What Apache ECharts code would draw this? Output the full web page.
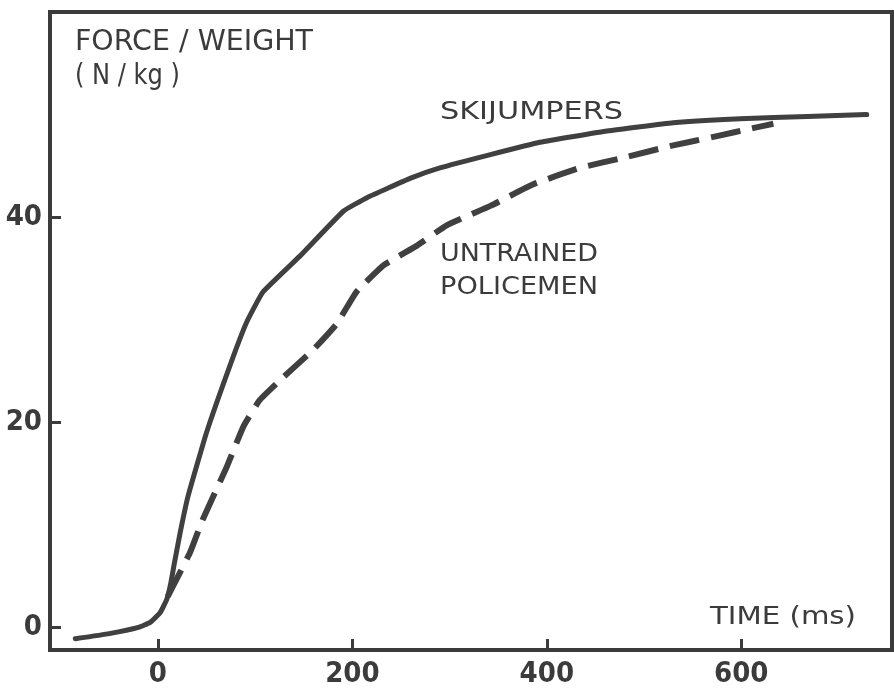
<!DOCTYPE html>
<html>
<head>
<meta charset="utf-8">
<script src="https://cdn.jsdelivr.net/npm/echarts@6/dist/echarts.min.js"></script>
<style>
html,body{margin:0;padding:0;background:#fff;}
#main{width:894px;height:689px;}
</style>
</head>
<body>
<div id="main"></div>
<script>
// ---- data ----
var xTicks = [0, 200, 400, 600];
var yTicks = [0, 20, 40];
var skijumpersT = [-85, -50, -20, -8, 2, 9, 13, 17, 23, 31, 50, 74, 91, 108, 146, 191, 215, 260, 290, 342, 393, 462, 530, 599, 668, 729];
var skijumpersV = [-1.1, -0.6, 0, 0.5, 1.4, 2.7, 4.2, 6.3, 9.3, 12.8, 19, 25.5, 29.7, 32.7, 36.2, 40.6, 41.9, 43.8, 44.8, 46.1, 47.3, 48.4, 49.2, 49.6, 49.8, 50.0];
var policemenT = [10, 17.5, 33, 46, 71, 88, 105, 129, 160, 184, 204, 232, 266, 297, 342, 386, 434, 479, 530, 575, 613, 633];
var policemenV = [3.0, 4.4, 7.3, 10.5, 15.7, 19.6, 22.2, 24.4, 27.1, 29.6, 32.7, 35.3, 37.2, 39.2, 41.1, 43.2, 44.8, 45.8, 47.0, 47.9, 48.7, 49.1];
var yTitle1 = 'FORCE / WEIGHT';
var yTitle2 = '( N / kg )';
var xTitle = 'TIME (ms)';
var label1 = 'SKIJUMPERS';
var label2a = 'UNTRAINED';
var label2b = 'POLICEMEN';

function zip(a, b) { return a.map(function (v, i) { return [v, b[i]]; }); }

var INK = '#3b3b3b';
var measureCtx = document.createElement('canvas').getContext('2d');
function txt(text, x, y, size, targetW) {
  var font = size + 'px "DejaVu Sans"';
  measureCtx.font = font;
  var w = measureCtx.measureText(text).width;
  return {
    type: 'text', x: x, y: y, scaleX: targetW / w, scaleY: 1,
    style: { text: text, font: font, fill: INK, align: 'left', verticalAlign: 'middle' }
  };
}

var chart = echarts.init(document.getElementById('main'), null, { renderer: 'canvas' });
chart.setOption({
  backgroundColor: '#fff',
  animation: false,
  grid: { left: 50, right: 2, top: 12, bottom: 39, show: true, borderWidth: 4, borderColor: INK, backgroundColor: 'transparent' },
  xAxis: {
    type: 'value', min: -111, max: 755,
    axisLine: { show: true, onZero: false, lineStyle: { color: INK, width: 4 } },
    splitLine: { show: false },
    axisTick: { show: true, inside: true, length: 11, customValues: xTicks, lineStyle: { color: INK, width: 3 } },
    axisLabel: { customValues: xTicks, margin: 10, color: INK, fontSize: 29, fontWeight: 'bold', fontFamily: '"DejaVu Sans Condensed", "DejaVu Sans"' }
  },
  yAxis: {
    type: 'value', min: -2.2, max: 60,
    axisLine: { show: true, onZero: false, lineStyle: { color: INK, width: 4 } },
    splitLine: { show: false },
    axisTick: { show: true, inside: true, length: 11, customValues: yTicks, lineStyle: { color: INK, width: 3 } },
    axisLabel: { customValues: yTicks, margin: 8, color: INK, fontSize: 29, fontWeight: 'bold', fontFamily: '"DejaVu Sans Condensed", "DejaVu Sans"' }
  },
  series: [
    {
      name: label1, type: 'line', data: zip(skijumpersT, skijumpersV), smooth: 0.12, symbol: 'none',
      lineStyle: { color: '#404040', width: 5, cap: 'round', join: 'round' }
    },
    {
      name: label2a + ' ' + label2b, type: 'line', data: zip(policemenT, policemenV), smooth: 0.12, symbol: 'none',
      lineStyle: { color: '#404040', width: 6, type: [30, 12], cap: 'butt', join: 'round' }
    }
  ],
  graphic: [
    txt(yTitle1, 75, 43, 28, 238),
    txt(yTitle2, 75, 77, 28, 105),
    txt(label1, 440, 113, 24, 183),
    txt(label2a, 440, 255, 24, 158),
    txt(label2b, 440, 288, 24, 158),
    txt(xTitle, 710, 617, 25, 146)
  ]
});
</script>
</body>
</html>
